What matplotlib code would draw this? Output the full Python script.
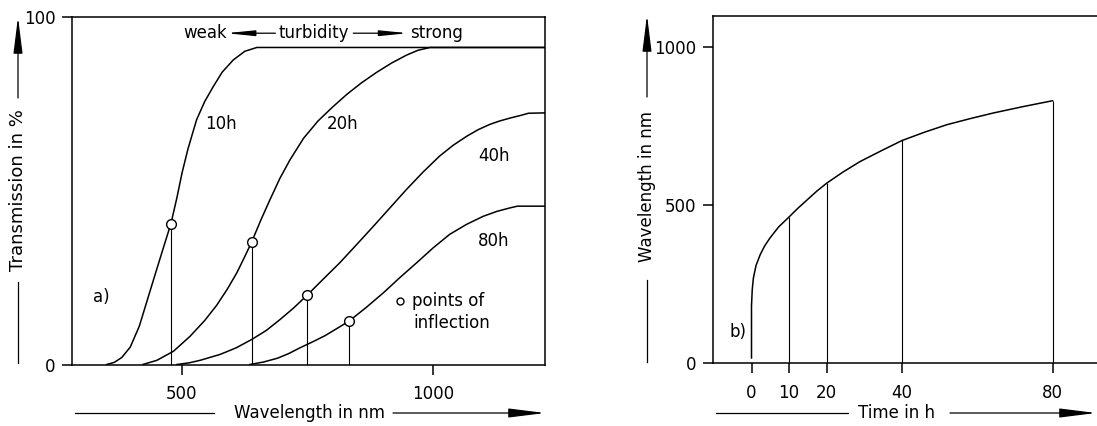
import matplotlib
matplotlib.use("Agg")
from matplotlib import pyplot as plt

plt.rcParams['font.family'] = ['DejaVu Sans']

# --- panel a): transmission curves ---
wl_10h = [350, 365, 380, 397, 415, 433, 450, 465, 478, 490, 500, 512, 529, 545,
          562, 580, 602, 625, 649, 1222]
tr_10h = [0, 0.6, 2, 5, 11, 19.5, 27.5, 34.5, 40.5, 48, 55, 62, 70.3, 75.5,
          79.8, 84, 87.5, 90, 91.1, 91.1]

wl_20h = [422, 450, 483, 516, 545, 569, 590, 609, 625, 639, 657, 675, 695, 715,
          742, 771, 800, 828, 857, 887, 917, 947, 970, 994, 1222]
tr_20h = [0, 1.2, 3.8, 8.1, 12.6, 17, 21.6, 26.3, 31, 35.3, 41.5, 47.3, 53.5, 58.8,
          65, 70, 74, 77.6, 80.9, 83.9, 86.6, 88.9, 90.3, 91.1, 91.1]

wl_40h = [490, 515, 536, 576, 608, 639, 668, 695, 722, 749, 781, 814, 848, 881,
          914, 947, 980, 1013, 1040, 1067, 1090, 1113, 1133, 1153, 1175, 1190, 1222]
tr_40h = [0, 0.5, 1.2, 2.9, 4.8, 7.2, 9.8, 12.9, 16.2, 19.9, 24.5, 29.2, 34.5, 39.7,
          45, 50.3, 55.3, 59.9, 63, 65.6, 67.5, 69, 70, 70.8, 71.6, 72.2, 72.3]

wl_80h = [635, 662, 690, 712, 735, 760, 785, 808, 832, 866, 901, 934, 967, 1000,
          1033, 1067, 1100, 1127, 1153, 1168, 1222]
tr_80h = [0, 0.7, 1.8, 3.1, 4.8, 6.5, 8.3, 10.3, 12.4, 16.3, 20.6, 25, 29.2, 33.5,
          37.4, 40.3, 42.6, 44, 45, 45.5, 45.5]

curve_labels = ["10h", "20h", "40h", "80h"]
label_x = [546, 788, 1089, 1089]
label_y = [69, 69, 60, 35.5]

infl_wl = [478, 639, 749, 832]
infl_tr = [40.5, 35.3, 19.9, 12.4]

# --- panel b): wavelength of inflection vs time ---
time_h = [0, 0, 0.2, 0.5, 1.2, 2.3, 3.5, 4.9, 7.2, 10, 12.3, 14.7, 17.3, 20,
          24.3, 28.8, 34.4, 40, 45.9, 51.9, 58, 64.2, 72, 80]
wl_nm = [15, 180, 232, 268, 308, 342, 370, 395, 430, 462, 489, 515, 543, 569,
         604, 637, 671, 704, 730, 754, 773, 791, 811, 830]
stem_t = [10, 20, 40, 80]
stem_w = [462, 569, 704, 830]

W, H = 1097, 426
fig = plt.figure(figsize=(W / 100, H / 100), dpi=100)

def box(x0, y0, x1, y1):
    # pixel box (top-left origin) -> figure fraction
    return [x0 / W, 1 - y1 / H, (x1 - x0) / W, (y1 - y0) / H]

fs = 12
lw = 1.1

ax = fig.add_axes(box(72, 16.5, 544.6, 364.5))
ax.plot(wl_10h, tr_10h, c='black', lw=lw)
ax.plot(wl_20h, tr_20h, c='black', lw=lw)
ax.plot(wl_40h, tr_40h, c='black', lw=lw)
ax.plot(wl_80h, tr_80h, c='black', lw=lw)
ax.vlines(infl_wl, 0, infl_tr, colors='black', lw=0.8)
ax.plot(infl_wl, infl_tr, 'o', ms=7, mfc='white', mec='black', mew=1.0)
for lab, lx, ly in zip(curve_labels, label_x, label_y):
    ax.text(lx, ly, lab, fontsize=fs, ha='left', va='center')
ax.text(322, 19.4, "a)", fontsize=fs, ha='left', va='center')
ax.plot([934], [18.2], 'o', ms=5, mfc='white', mec='black', mew=1.0)
ax.text(958, 18.2, "points of", fontsize=fs, ha='left', va='center')
ax.text(960, 11.8, "inflection", fontsize=fs, ha='left', va='center')

ax.text(503, 95.2, "weak", fontsize=fs, ha='left', va='center')
ax.text(762, 95.2, "turbidity", fontsize=fs, ha='center', va='center')
ax.text(1060, 95.2, "strong", fontsize=fs, ha='right', va='center')
arr = dict(arrowstyle='-|>,head_length=1.4,head_width=0.14', color='black',
           lw=0.9, mutation_scale=12, shrinkA=0, shrinkB=0)
ax.annotate("", xy=(588, 95.2), xytext=(686, 95.2), arrowprops=arr)
ax.annotate("", xy=(950, 95.2), xytext=(841, 95.2), arrowprops=arr)

ax.set_xlim(281, 1222)
ax.set_ylim(0, 100)
ax.set_xticks([500, 1000])
ax.set_yticks([0, 100])
ax.tick_params(direction='out', length=7, width=lw, labelsize=fs, pad=5)
ax.tick_params(axis='x', pad=8)
for s in ax.spines.values():
    s.set_linewidth(lw)

# right panel; its right edge runs past the picture edge
x0b = 713
x_per = 3.764
t0_px = 751.5
right_px = t0_px + 100 * x_per
bx = fig.add_axes(box(x0b, 15.5, right_px, 362.7))
bx.plot(time_h, wl_nm, c='black', lw=lw)
bx.vlines(stem_t, 0, stem_w, colors='black', lw=0.8)
bx.text(-5.8, 98, "b)", fontsize=fs, ha='left', va='center')
bx.set_xlim(-(t0_px - x0b) / x_per, 100)
bx.set_ylim(0, 1100)
bx.set_xticks([0, 10, 20, 40, 80])
bx.set_yticks([0, 500, 1000])
bx.tick_params(direction='out', length=7, width=lw, labelsize=fs, pad=5)
bx.tick_params(axis='x', pad=8)
for s in bx.spines.values():
    s.set_linewidth(lw)

# axis titles with the long arrows, in figure pixels
big = dict(arrowstyle='-|>,head_length=1.6,head_width=0.2', color='black',
           lw=0.9, mutation_scale=14, shrinkA=0, shrinkB=0)

def fp(x, y):
    return (x, H - y)

# left y title
fig.text(18 / W, 1 - 190 / H, "Transmission in %", rotation=90, fontsize=13,
         ha='center', va='center')
fig.add_artist(plt.Line2D([18 / W, 18 / W], [1 - 363 / H, 1 - 282 / H], color='black', lw=0.9))
ax.annotate("", xy=fp(18, 17), xytext=fp(18, 98), xycoords='figure pixels',
            textcoords='figure pixels', arrowprops=big)
# left x title
fig.text(309 / W, 1 - 413 / H, "Wavelength in nm", fontsize=fs, ha='center', va='center')
fig.add_artist(plt.Line2D([75 / W, 214 / W], [1 - 413 / H] * 2, color='black', lw=0.9))
ax.annotate("", xy=fp(545, 413), xytext=fp(393, 413), xycoords='figure pixels',
            textcoords='figure pixels', arrowprops=big)
# right y title
fig.text(647 / W, 1 - 187 / H, "Wavelength in nm", rotation=90, fontsize=fs,
         ha='center', va='center')
fig.add_artist(plt.Line2D([647 / W, 647 / W], [1 - 362 / H, 1 - 280 / H], color='black', lw=0.9))
ax.annotate("", xy=fp(647, 15), xytext=fp(647, 97), xycoords='figure pixels',
            textcoords='figure pixels', arrowprops=big)
# right x title
fig.text(896 / W, 1 - 413 / H, "Time in h", fontsize=fs, ha='center', va='center')
fig.add_artist(plt.Line2D([716 / W, 848 / W], [1 - 413 / H] * 2, color='black', lw=0.9))
ax.annotate("", xy=fp(1096, 413), xytext=fp(950, 413), xycoords='figure pixels',
            textcoords='figure pixels', arrowprops=big)

fig.savefig("out.png", dpi=100)
